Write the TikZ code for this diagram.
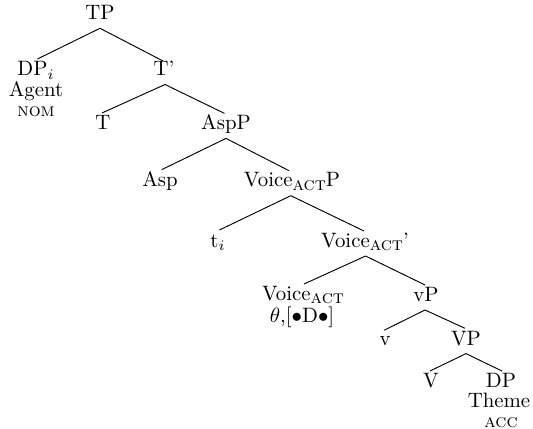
\documentclass[tikz,border=0pt]{standalone}
\usetikzlibrary{calc}
\newcommand{\actsub}{\raisebox{-1.8pt}{\small\scshape act}}
\begin{document}
\begin{tikzpicture}[x=0.48pt,y=-0.48pt,
  lab/.style={anchor=base,inner sep=0pt,font=\normalsize},
  sc/.style={anchor=base,inner sep=0pt,font=\small\scshape},
  edge/.style={line width=0.45pt}]
\useasboundingbox (0,0) rectangle (533,428);
% nodes (baselines in px, y down)
\node[lab] (TP) at (100,19.3) {TP};
\node[lab] (DPi) at (36,76) {DP$_i$};
\node[lab] (Agent) at (36,96.6) {Agent};
\node[sc] (NOM) at (36,116.6) {nom};
\node[lab] (Tbar) at (164,76) {T'};
\node[lab] (T) at (103,129) {T};
\node[lab] (AspP) at (226,129.4) {AspP};
\node[lab] (Asp) at (160,186.7) {Asp};
\node[lab] (VoiceP) at (292,186.7) {Voice\actsub P};
\node[lab] (ti) at (218,247) {t$_i$};
\node[lab] (Voicebar) at (365,247) {Voice\actsub'};
\node[lab] (Voice) at (303,300) {Voice\actsub};
\node[lab] (theta) at (302,322) {$\theta$,[$\bullet$D$\bullet$]};
\node[lab] (vP) at (426,301) {vP};
\node[lab] (v) at (385,345.3) {v};
\node[lab] (VP) at (466,345.3) {VP};
\node[lab] (V) at (431,387) {V};
\node[lab] (DP) at (501,387) {DP};
\node[lab] (Theme) at (499,407.8) {Theme};
\node[sc] (ACC) at (501,427.3) {acc};
% edges
\draw[edge] ($(TP.base)+(0,9)$) -- ($(DPi.base)+(1.4,-17)$);
\draw[edge] ($(TP.base)+(0,9)$) -- ($(Tbar.base)+(-1,-15)$);
\draw[edge] ($(Tbar.base)+(1,8.5)$) -- ($(T.base)+(-1,-16)$);
\draw[edge] ($(Tbar.base)+(1,8.5)$) -- ($(AspP.base)+(-1.5,-16)$);
\draw[edge] ($(AspP.base)+(0,9)$) -- ($(Asp.base)+(1.6,-17)$);
\draw[edge] ($(AspP.base)+(0,9)$) -- ($(VoiceP.base)+(-3,-16)$);
\draw[edge] ($(VoiceP.base)+(-1.2,9)$) -- ($(ti.base)+(1.4,-17)$);
\draw[edge] ($(VoiceP.base)+(-1.2,9)$) -- ($(Voicebar.base)+(-1,-16)$);
\draw[edge] ($(Voicebar.base)+(0.6,9)$) -- ($(Voice.base)+(1,-16)$);
\draw[edge] ($(Voicebar.base)+(0.6,9)$) -- ($(vP.base)+(-1,-16)$);
\draw[edge] ($(vP.base)+(-1,9)$) -- ($(v.base)+(-1,-15)$);
\draw[edge] ($(vP.base)+(-1,9)$) -- ($(VP.base)+(-1,-17)$);
\draw[edge] ($(VP.base)+(0,8.3)$) -- ($(V.base)+(-1,-16)$);
\draw[edge] ($(VP.base)+(0,8.3)$) -- ($(DP.base)+(1,-16)$);
\end{tikzpicture}
\end{document}
